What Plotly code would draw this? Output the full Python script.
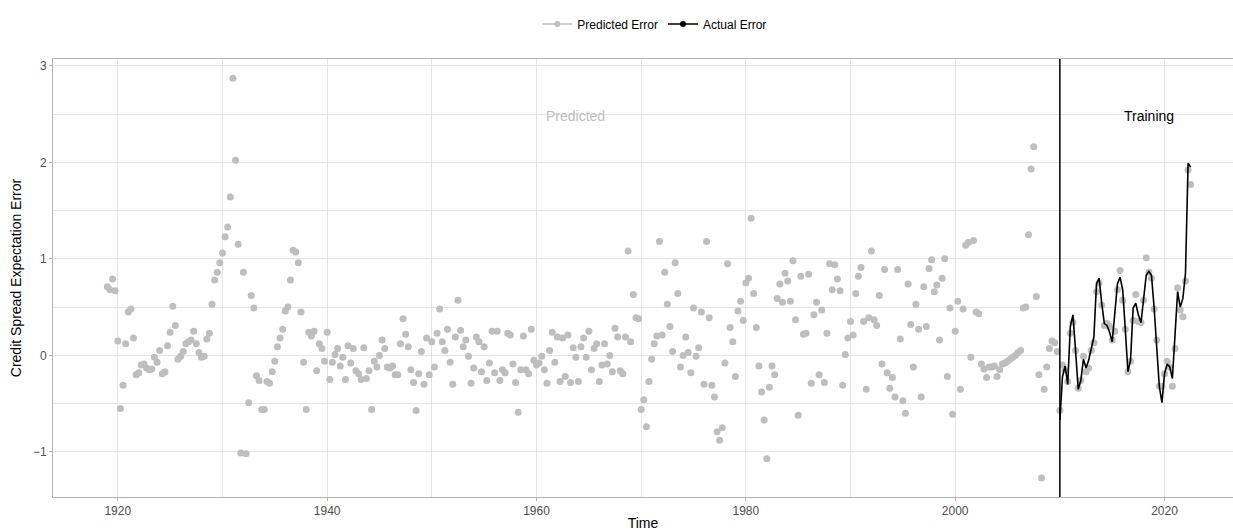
import plotly.graph_objects as go

# ---- data (quarterly) ----
pred_start = 1919.0
predicted_error = [
    0.71, 0.68, 0.79, 0.67,    # 1919
    0.15, -0.55, -0.31, 0.12,  # 1920
    0.45, 0.48, 0.18, -0.20,   # 1921
    -0.18, -0.10, -0.09, -0.13,  # 1922
    -0.15, -0.14, -0.02, -0.07,  # 1923
    0.05, -0.19, -0.17, 0.10,  # 1924
    0.24, 0.51, 0.31, -0.04,   # 1925
    -0.01, 0.04, 0.12, 0.14,   # 1926
    0.16, 0.25, 0.12, 0.03,    # 1927
    -0.02, -0.01, 0.17, 0.23,  # 1928
    0.53, 0.78, 0.86, 0.96,    # 1929
    1.06, 1.23, 1.33, 1.64,    # 1930
    2.87, 2.02, 1.15, -1.01,   # 1931
    0.86, -1.02, -0.49, 0.62,  # 1932
    0.49, -0.21, -0.26, -0.56,  # 1933
    -0.56, -0.27, -0.29, -0.17,  # 1934
    -0.06, 0.09, 0.18, 0.27,   # 1935
    0.46, 0.50, 0.78, 1.09,    # 1936
    1.07, 0.96, 0.45, -0.07,   # 1937
    -0.56, 0.24, 0.20, 0.25,   # 1938
    -0.16, 0.12, 0.07, -0.06,  # 1939
    0.24, -0.25, -0.07, 0.01,  # 1940
    0.07, -0.11, -0.02, -0.25,  # 1941
    0.10, -0.08, 0.07, -0.16,  # 1942
    -0.19, -0.25, 0.08, -0.24,  # 1943
    -0.16, -0.56, -0.06, -0.12,  # 1944
    0.00, 0.16, 0.07, -0.12,   # 1945
    -0.13, -0.11, -0.20, -0.20,  # 1946
    0.12, 0.38, 0.22, 0.09,    # 1947
    -0.15, -0.28, -0.57, -0.19,  # 1948
    0.04, -0.30, 0.18, -0.20,  # 1949
    0.14, -0.12, 0.23, 0.48,   # 1950
    0.14, 0.05, 0.27, -0.07,   # 1951
    -0.30, 0.19, 0.57, 0.26,   # 1952
    0.09, 0.16, -0.01, -0.29,  # 1953
    -0.13, 0.19, 0.14, -0.17,  # 1954
    0.09, -0.26, -0.08, 0.25,  # 1955
    -0.18, 0.25, -0.26, -0.15,  # 1956
    -0.18, 0.23, 0.21, -0.09,  # 1957
    -0.28, -0.59, -0.15, 0.20,  # 1958
    -0.15, -0.19, 0.27, -0.05,  # 1959
    -0.10, -0.08, -0.01, -0.15,  # 1960
    -0.29, 0.05, 0.24, -0.07,  # 1961
    0.19, -0.27, 0.18, -0.22,  # 1962
    0.21, -0.28, 0.08, -0.02,  # 1963
    -0.27, 0.09, 0.18, -0.02,  # 1964
    0.25, -0.15, 0.07, 0.12,   # 1965
    -0.27, -0.10, 0.12, -0.09,  # 1966
    0.00, -0.17, 0.28, 0.19,   # 1967
    -0.16, -0.19, 0.19, 1.08,  # 1968
    0.14, 0.63, 0.39, 0.38,    # 1969
    -0.56, -0.46, -0.74, -0.27,  # 1970
    -0.04, 0.12, 0.20, 1.18,   # 1971
    0.21, 0.86, 0.53, 0.30,    # 1972
    0.04, 0.96, 0.64, -0.12,   # 1973
    0.00, 0.19, 0.03, -0.18,   # 1974
    0.49, -0.01, 0.08, 0.45,   # 1975
    -0.30, 1.18, 0.39, -0.31,  # 1976
    -0.43, -0.79, -0.88, -0.75,  # 1977
    -0.08, 0.95, 0.29, 0.14,   # 1978
    -0.22, 0.46, 0.56, 0.36,   # 1979
    0.75, 0.80, 1.42, 0.64,    # 1980
    0.29, -0.11, -0.38, -0.67,  # 1981
    -1.07, -0.33, -0.11, -0.20,  # 1982
    0.59, 0.74, 0.55, 0.85,    # 1983
    0.77, 0.56, 0.98, 0.37,    # 1984
    -0.62, 0.82, 0.22, 0.23,   # 1985
    0.84, -0.29, 0.42, 0.55,   # 1986
    -0.20, 0.47, -0.28, 0.23,  # 1987
    0.95, 0.68, 0.94, 0.79,    # 1988
    0.67, -0.31, 0.01, 0.18,   # 1989
    0.35, 0.21, 0.64, 0.82,    # 1990
    0.91, 0.35, -0.35, 0.39,   # 1991
    1.08, 0.37, 0.31, 0.62,    # 1992
    -0.09, 0.89, -0.18, -0.34,  # 1993
    -0.23, -0.43, 0.89, 0.17,  # 1994
    -0.47, -0.60, 0.74, 0.32,  # 1995
    -0.12, 0.53, 0.27, -0.43,  # 1996
    0.71, 0.30, 0.90, 0.99,    # 1997
    0.66, 0.73, 0.16, 0.80,    # 1998
    1.00, -0.22, 0.49, -0.61,  # 1999
    0.25, 0.56, -0.35, 0.48,   # 2000
    1.14, 1.17, -0.02, 1.19,   # 2001
    0.45, 0.43, -0.09, -0.14,  # 2002
    -0.23, -0.12, -0.12, -0.11,  # 2003
    -0.22, -0.15, -0.09, -0.08,  # 2004
    -0.06, -0.04, -0.02, 0.00,  # 2005
    0.03, 0.05, 0.49, 0.50,    # 2006
    1.25, 1.93, 2.16, 0.61,    # 2007
    -0.20, -1.27, -0.35, -0.12,  # 2008
    0.07, 0.15, 0.13, 0.04,    # 2009
    -0.57, -0.10, -0.15, -0.27,  # 2010
    0.23, 0.34, 0.05, -0.34,   # 2011
    -0.26, -0.01, -0.17, -0.13,  # 2012
    0.05, 0.13, 0.66, 0.75,    # 2013
    0.52, 0.31, 0.33, 0.30,    # 2014
    0.16, 0.25, 0.68, 0.88,    # 2015
    0.57, 0.27, -0.17, -0.06,  # 2016
    0.36, 0.63, 0.35, 0.34,    # 2017
    0.57, 1.01, 0.86, 0.80,    # 2018
    0.48, 0.16, -0.32, -0.32,  # 2019
    -0.19, -0.06, -0.12, -0.32,  # 2020
    0.07, 0.70, 0.47, 0.40,    # 2021
    0.77, 1.92, 1.77,          # 2022
]

actual_start = 2010.0
actual_error = [
    -0.67, -0.22, -0.11, -0.30,  # 2010
    0.30, 0.42, 0.05, -0.35,   # 2011
    -0.26, -0.04, -0.13, -0.05,  # 2012
    0.07, 0.19, 0.74, 0.80,    # 2013
    0.54, 0.33, 0.31, 0.24,    # 2014
    0.14, 0.47, 0.74, 0.81,    # 2015
    0.68, 0.27, -0.17, -0.05,  # 2016
    0.49, 0.54, 0.42, 0.34,    # 2017
    0.57, 0.83, 0.87, 0.83,    # 2018
    0.50, 0.09, -0.32, -0.49,  # 2019
    -0.19, -0.09, -0.12, -0.24,  # 2020
    0.26, 0.66, 0.50, 0.59,    # 2021
    0.85, 1.99, 1.95,          # 2022
]

training_start = 2010.0
x_tick_vals = [1920, 1940, 1960, 1980, 2000, 2020]
y_tick_vals = [-1, 0, 1, 2, 3]
labels = {"predicted": "Predicted", "training": "Training"}

pred_x = [pred_start + 0.25 * i for i in range(len(predicted_error))]
act_x = [actual_start + 0.25 * i for i in range(len(actual_error))]

GRAY = "#BEBEBE"
FONT = "Liberation Sans, Arial, Helvetica, sans-serif"

fig = go.Figure()
fig.add_trace(go.Scatter(
    x=pred_x, y=predicted_error, mode="markers",
    marker=dict(color=GRAY, size=7), showlegend=False, hoverinfo="x+y"))
fig.add_trace(go.Scatter(
    x=act_x, y=actual_error, mode="lines",
    line=dict(color="black", width=1.6), showlegend=False))
# legend entries (line + point like the reference key)
fig.add_trace(go.Scatter(
    x=[None], y=[None], mode="lines+markers", name="Predicted Error",
    line=dict(color=GRAY, width=1.5), marker=dict(color=GRAY, size=6)))
fig.add_trace(go.Scatter(
    x=[None], y=[None], mode="lines+markers", name="Actual Error",
    line=dict(color="black", width=1.5), marker=dict(color="black", size=6)))

fig.add_vline(x=training_start, line=dict(color="black", width=1.5), layer="above")

fig.add_annotation(x=1963.75, y=2.48, text=labels["predicted"], showarrow=False,
                   font=dict(size=14, color=GRAY, family=FONT))
fig.add_annotation(x=2018.5, y=2.48, text=labels["training"], showarrow=False,
                   font=dict(size=14, color="black", family=FONT))

grid_c = "#E5E5E5"
border_c = "#B3B3B3"
fig.update_layout(
    width=1233, height=531,
    margin=dict(l=53, r=0, t=59, b=34, autoexpand=False),
    paper_bgcolor="white", plot_bgcolor="white",
    font=dict(family=FONT, size=12, color="#4D4D4D"),
    legend=dict(orientation="h", x=0.51, xanchor="center", y=1.08, yanchor="middle",
                font=dict(size=12, color="black"), itemwidth=30,
                bgcolor="rgba(0,0,0,0)"),
    xaxis=dict(
        range=[1913.81, 2026.54], tickmode="array", tickvals=x_tick_vals,
        showgrid=True, gridcolor=grid_c, gridwidth=1,
        minor=dict(dtick=10, tick0=1920, showgrid=True, gridcolor=grid_c, gridwidth=0.8,
                   ticks=""),
        zeroline=False, showline=True, linecolor=border_c, linewidth=1, mirror=True,
        ticks="outside", ticklen=3, tickcolor=border_c,
        tickfont=dict(size=12, color="#4D4D4D"),
        title=dict(text="Time", font=dict(size=14, color="black"), standoff=2),
        automargin=False,
    ),
    yaxis=dict(
        range=[-1.467, 3.07], tickmode="array", tickvals=y_tick_vals,
        showgrid=True, gridcolor=grid_c, gridwidth=1,
        minor=dict(dtick=0.5, tick0=0, showgrid=True, gridcolor=grid_c, gridwidth=0.8,
                   ticks=""),
        zeroline=False, showline=True, linecolor=border_c, linewidth=1,
        ticks="outside", ticklen=3, tickcolor=border_c,
        tickfont=dict(size=12, color="#4D4D4D"),
        title=dict(text="Credit Spread Expectation Error",
                   font=dict(size=14, color="black"), standoff=8),
        automargin=False,
    ),
)

# remove the page's default 8px body margin so the figure sits at the window's top-left
fig.write_html("out.html",
               config={"displayModeBar": False},
               post_script="document.body.style.margin='0';document.body.style.overflow='hidden';")
